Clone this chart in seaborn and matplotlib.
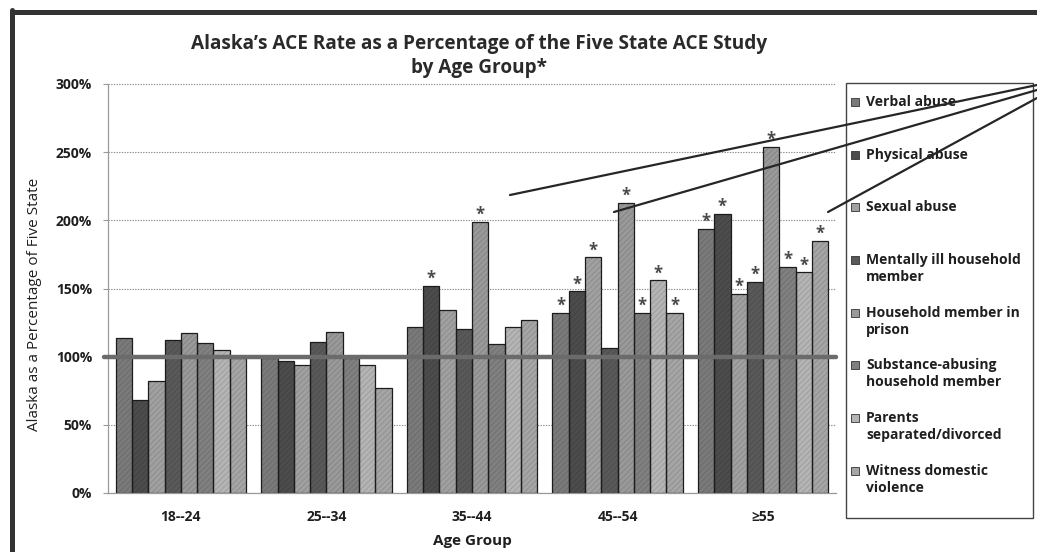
import matplotlib
matplotlib.use("Agg")
import matplotlib.pyplot as plt
import matplotlib.ticker as mticker
import matplotlib.colors as mcolors
from matplotlib import font_manager as fm
from matplotlib.patches import Rectangle, Patch
from matplotlib.lines import Line2D
from matplotlib.legend_handler import HandlerPatch
import pandas as pd
import seaborn as sns

# ---- data -------------------------------------------------------------
age_groups = ["18--24", "25--34", "35--44", "45--54", "\u226555"]

ace_types = [
    "Verbal abuse",
    "Physical abuse",
    "Sexual abuse",
    "Mentally ill household member",
    "Household member in prison",
    "Substance-abusing household member",
    "Parents separated/divorced",
    "Witness domestic violence",
]
legend_labels = [
    "Verbal abuse\n ",
    "Physical abuse\n ",
    "Sexual abuse\n ",
    "Mentally ill household\nmember",
    "Household member in\nprison",
    "Substance-abusing\nhousehold member",
    "Parents\nseparated/divorced",
    "Witness domestic\nviolence",
]

# Alaska rate as % of the Five State rate, per age group
verbal_abuse = [114, 99, 122, 132, 194]
physical_abuse = [68, 97, 152, 148, 205]
sexual_abuse = [82, 94, 134, 173, 146]
mentally_ill = [112, 111, 120, 106, 155]
household_prison = [117, 118, 199, 213, 254]
substance_abuse = [110, 99, 109, 132, 166]
parents_separated = [105, 94, 122, 156, 162]
witness_violence = [99, 77, 127, 132, 185]

# 1 = statistically significant difference (marked with *)
sig_verbal = [0, 0, 0, 1, 1]
sig_physical = [0, 0, 1, 1, 1]
sig_sexual = [0, 0, 0, 1, 1]
sig_mentally_ill = [0, 0, 0, 0, 1]
sig_prison = [0, 0, 1, 1, 1]
sig_substance = [0, 0, 0, 1, 1]
sig_parents = [0, 0, 0, 1, 1]
sig_witness = [0, 0, 0, 1, 1]

series_values = [verbal_abuse, physical_abuse, sexual_abuse, mentally_ill,
                 household_prison, substance_abuse, parents_separated,
                 witness_violence]
series_sig = [sig_verbal, sig_physical, sig_sexual, sig_mentally_ill,
              sig_prison, sig_substance, sig_parents, sig_witness]

bar_colors = ["#7a7a7a", "#4c4c4c", "#a0a0a0", "#595959",
              "#999999", "#808080", "#b4b4b4", "#a5a5a5"]

df = pd.DataFrame(
    [(grp, name, val)
     for name, vals in zip(ace_types, series_values)
     for grp, val in zip(age_groups, vals)],
    columns=["age_group", "ace", "pct"],
)

# ---- style ------------------------------------------------------------
sns.set_theme(style="white")


def has_bold(family):
    for f in fm.fontManager.ttflist:
        if f.name != family:
            continue
        w = f.weight
        if isinstance(w, str):
            w = fm.weight_dict.get(w, 400)
        if w >= 700:
            return True
    return False


MAIN = next((f for f in ["Open Sans", "Noto Sans", "Roboto",
                         "Liberation Sans"] if has_bold(f)), "DejaVu Sans")
FONT = [MAIN, "DejaVu Sans"]
plt.rcParams["font.family"] = FONT
plt.rcParams["hatch.linewidth"] = 0.45
TXT = "#1f1f1f"

W, H = 1037, 552
fig = plt.figure(figsize=(W / 100, H / 100), dpi=100)
fig.patch.set_facecolor("white")


def fx(x):
    return x / W


def fy(y):
    return 1 - y / H


ax = fig.add_axes([fx(108), fy(493), (836 - 108) / W, (493 - 84) / H])

sns.barplot(
    data=df, x="age_group", y="pct", hue="ace",
    order=age_groups, hue_order=ace_types, palette=bar_colors,
    saturation=1, width=0.895, gap=0, errorbar=None,
    linewidth=0, legend=False, ax=ax, zorder=2,
)

# fine diagonal texture inside each bar plus a dark outline
for container in ax.containers:
    for bar in list(container):
        fc = mcolors.to_rgb(bar.get_facecolor())
        hatch_col = tuple(c * 0.82 for c in fc)
        bar.set_hatch("//////")
        bar.set_edgecolor(hatch_col)
        bar.set_linewidth(0)
        ax.add_patch(Rectangle(bar.get_xy(), bar.get_width(), bar.get_height(),
                               fill=False, edgecolor="#1c1c1c", lw=0.9,
                               zorder=3))

# asterisks on significant bars
for container, flags in zip(ax.containers, series_sig):
    for bar, flag in zip(container, flags):
        if flag:
            ax.annotate("*", (bar.get_x() + bar.get_width() / 2, bar.get_height()),
                        xytext=(0, -1.5), textcoords="offset points",
                        ha="center", va="bottom", fontsize=12,
                        fontweight="bold", color="#4a4a4a", zorder=5)

# reference line at 100 %
ax.axhline(100, xmin=-0.006, xmax=1.0, color="#6b6b6b", lw=3.2,
           zorder=4, clip_on=False)

ax.set_xlim(-0.5, len(age_groups) - 0.5)
ax.set_ylim(0, 300)
ax.set_yticks(range(0, 301, 50))
ax.yaxis.set_major_formatter(mticker.PercentFormatter(decimals=0))
ax.yaxis.grid(True, linestyle=(0, (1.2, 1.2)), color="#8c8c8c", lw=0.8)
ax.set_axisbelow(True)

for side in ("top", "right"):
    ax.spines[side].set_visible(False)
for side in ("left", "bottom"):
    ax.spines[side].set_color("#9a9a9a")
    ax.spines[side].set_linewidth(0.9)

ax.tick_params(axis="y", length=3.5, width=0.8, color="#9a9a9a", pad=8,
               labelsize=10, labelcolor=TXT, left=True)
ax.tick_params(axis="x", length=0, pad=12, labelsize=10, labelcolor=TXT)
for lbl in ax.get_yticklabels() + ax.get_xticklabels():
    lbl.set_fontweight("bold")

ax.set_xlabel("Age Group", fontsize=11, fontweight="bold", color=TXT)
ax.xaxis.set_label_coords(0.5, (493 - 541) / (493 - 84))
ax.xaxis.label.set_va("center")
ax.set_ylabel("Alaska as a Percentage of Five State", fontsize=11,
              color=TXT)
ax.yaxis.label.set_va("center")
ax.yaxis.set_label_coords((35 - 108) / (836 - 108), (493 - 304) / (493 - 84))

fig.text(fx(479), fy(56),
         "Alaska\u2019s ACE Rate as a Percentage of the Five State ACE Study\nby Age Group*",
         ha="center", va="center", fontsize=13.7, fontweight="bold",
         color="#2a2a2a", linespacing=1.22)


# legend: small square keys sitting next to the first line of each label
def square_key(legend, orig_handle, xdescent, ydescent, width, height, fontsize):
    side = 0.58 * fontsize
    return Rectangle((-xdescent, -ydescent), side, side)


handles = [Patch(facecolor=c, edgecolor="#333333", lw=0.6) for c in bar_colors]
leg = fig.legend(
    handles, legend_labels, loc="upper left",
    bbox_to_anchor=(fx(851), fy(95)), bbox_transform=fig.transFigure,
    borderaxespad=0, borderpad=0, frameon=False,
    prop=dict(family=FONT, weight="bold", size=10),
    handlelength=0.58, handleheight=0.85, handletextpad=0.5,
    labelspacing=1.57,
    handler_map={Patch: HandlerPatch(patch_func=square_key)},
)
for t in leg.get_texts():
    t.set_color(TXT)
    t.set_linespacing(1.26)
try:
    for column in leg._legend_handle_box.get_children():
        for item in column.get_children():
            item.align = "top"
except AttributeError:
    pass

# legend frame
fig.add_artist(Rectangle((fx(846), fy(518)), (1033 - 846) / W, (518 - 83) / H,
                         transform=fig.transFigure, fill=False,
                         edgecolor="#444444", lw=1.0))

# callout lines from the top-right corner
for (x0, y0), (x1, y1) in [((510, 195), (1037, 85)),
                           ((614, 212), (1037, 90)),
                           ((828, 212), (1037, 98))]:
    fig.add_artist(Line2D([fx(x0), fx(x1)], [fy(y0), fy(y1)],
                          transform=fig.transFigure, color="#262626",
                          lw=1.6, zorder=10))

# outer frame (top and left edges)
fig.add_artist(Line2D([fx(12), fx(1040)], [fy(12), fy(12)],
                      transform=fig.transFigure, color="#333333", lw=3.6))
fig.add_artist(Line2D([fx(12), fx(12)], [fy(10), fy(560)],
                      transform=fig.transFigure, color="#333333", lw=3.6))

fig.savefig("out.png", dpi=100, facecolor="white")
